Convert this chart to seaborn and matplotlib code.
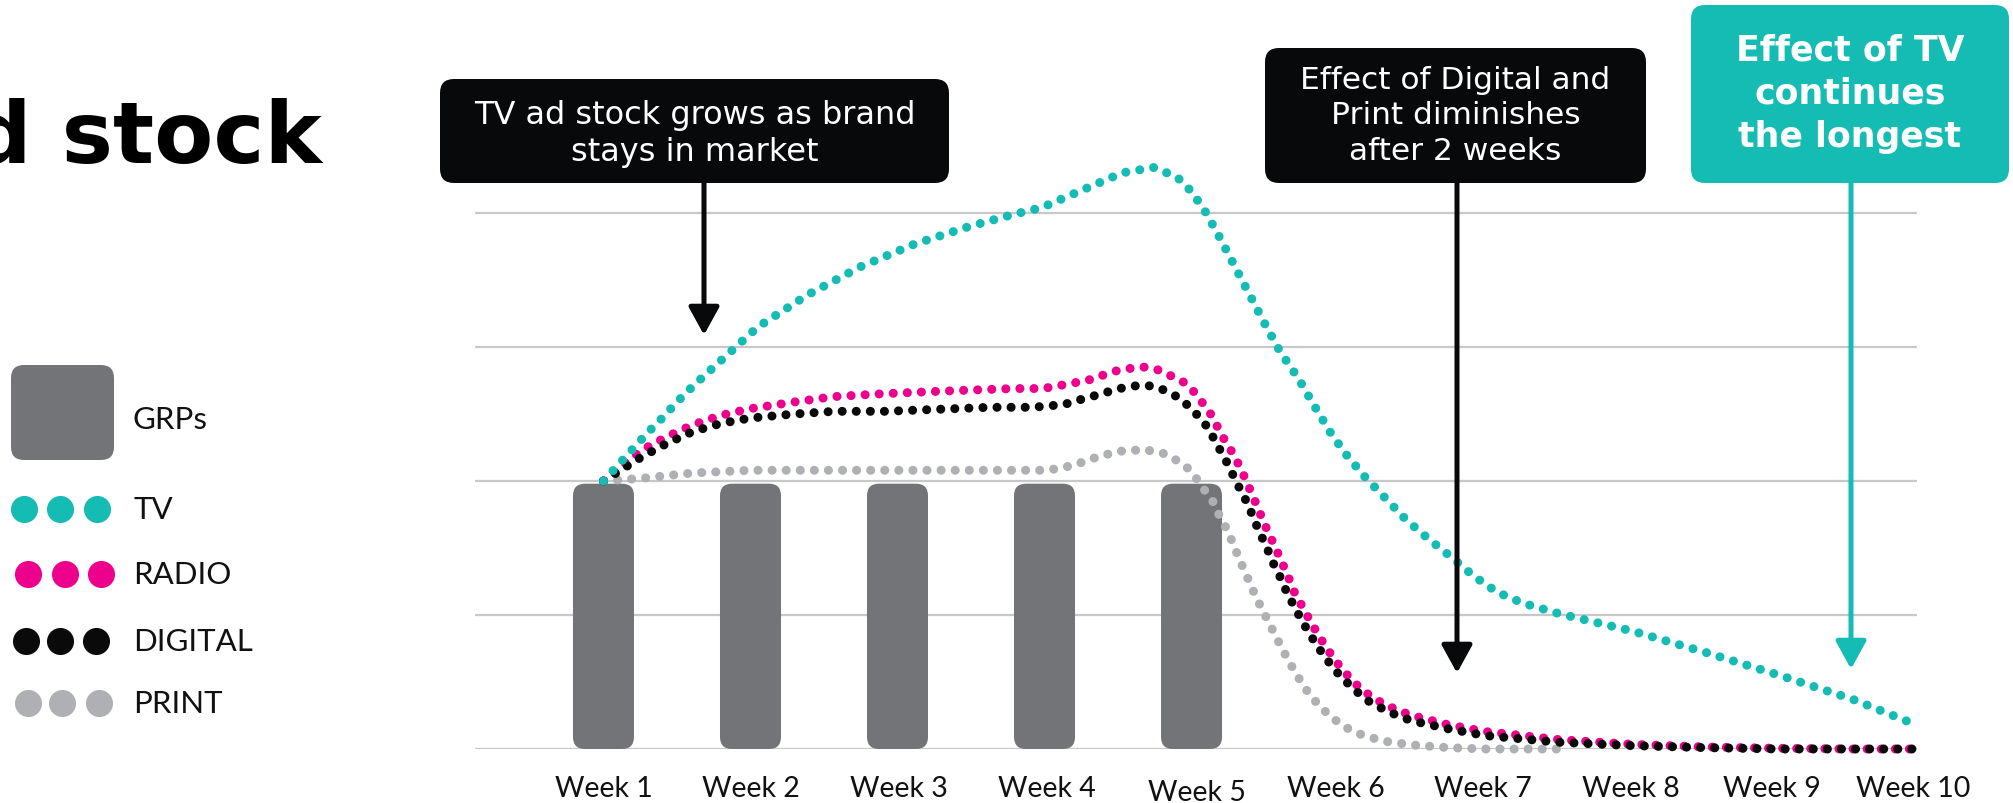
import matplotlib
matplotlib.use('Agg')
import matplotlib.pyplot as plt
import matplotlib.transforms as mtransforms
from matplotlib.patches import FancyBboxPatch, FancyArrowPatch
import seaborn as sns

# GRP flights (weeks 1-5)
grp_weeks = [1, 2, 3, 4, 5]
grp_values = [1.98, 1.98, 1.98, 1.98, 1.98]

week_labels = ['Week 1', 'Week 2', 'Week 3', 'Week 4', 'Week 5',
               'Week 6', 'Week 7', 'Week 8', 'Week 9', 'Week 10']

# ad stock curves (x in weeks, y in grid units)
tv_x = [1.0, 1.1, 1.2, 1.3, 1.4, 1.5, 1.61, 1.83, 2.05, 2.39, 2.75, 3.12, 3.49, 3.79,
        3.98, 4.17, 4.36, 4.53, 4.74, 4.90, 5.0, 5.1, 5.2, 5.3, 5.4, 5.5, 5.6, 5.73,
        5.83, 5.94, 6.05, 6.18, 6.32, 6.46, 6.61, 6.77, 6.92, 7.08, 7.25, 7.5, 8.0, 8.5,
        9.0, 9.5, 9.93]
tv_y = [2.0, 2.12, 2.24, 2.36, 2.47, 2.59, 2.71, 2.93, 3.15, 3.39, 3.60, 3.77, 3.90, 3.99,
        4.04, 4.13, 4.22, 4.30, 4.34, 4.27, 4.16, 4.00, 3.80, 3.59, 3.38, 3.17, 2.97, 2.76,
        2.57, 2.37, 2.20, 2.03, 1.87, 1.71, 1.57, 1.43, 1.29, 1.17, 1.09, 1.01, 0.88, 0.72,
        0.55, 0.37, 0.18]

radio_x = [1.0, 1.13, 1.26, 1.43, 1.61, 1.8, 2.0, 2.3, 2.57, 2.88, 3.29, 3.79, 3.99, 4.09,
           4.29, 4.48, 4.58, 4.68, 4.77, 4.87, 4.96, 5.03, 5.09, 5.15, 5.19, 5.24, 5.29,
           5.34, 5.42, 5.50, 5.58, 5.66, 5.70, 5.76, 5.82, 5.88, 5.94, 6.0, 6.1, 6.2, 6.3,
           6.4, 6.5, 6.75, 7.0, 7.5, 8.0, 8.5, 9.0, 9.5, 9.93]
radio_y = [2.0, 2.12, 2.23, 2.33, 2.42, 2.49, 2.54, 2.59, 2.63, 2.65, 2.67, 2.69, 2.69, 2.71,
           2.75, 2.82, 2.84, 2.85, 2.83, 2.78, 2.73, 2.65, 2.56, 2.47, 2.37, 2.28, 2.19,
           2.08, 1.88, 1.67, 1.48, 1.28, 1.17, 1.05, 0.93, 0.82, 0.72, 0.63, 0.50, 0.41, 0.34,
           0.29, 0.25, 0.18, 0.13, 0.07, 0.035, 0.015, 0.005, 0.0, 0.0]

digital_x = [1.0, 1.13, 1.26, 1.43, 1.61, 1.8, 2.0, 2.3, 2.57, 2.92, 3.63, 3.92, 4.02, 4.13,
             4.22, 4.32, 4.51, 4.62, 4.72, 4.81, 4.90, 4.98, 5.05, 5.11, 5.16, 5.21, 5.26,
             5.30, 5.35, 5.39, 5.43, 5.47, 5.51, 5.55, 5.60, 5.64, 5.70, 5.76, 5.82, 5.88,
             5.94, 6.0, 6.1, 6.2, 6.3, 6.4, 6.5, 6.75, 7.0, 7.5, 8.0, 8.5, 9.0, 9.5, 9.93]
digital_y = [2.0, 2.09, 2.18, 2.28, 2.37, 2.43, 2.47, 2.50, 2.52, 2.52, 2.55, 2.55, 2.56, 2.57,
             2.60, 2.63, 2.69, 2.71, 2.71, 2.68, 2.63, 2.56, 2.48, 2.40, 2.30, 2.20, 2.10,
             2.00, 1.90, 1.81, 1.70, 1.60, 1.51, 1.40, 1.29, 1.19, 1.06, 0.94, 0.83, 0.73,
             0.64, 0.56, 0.45, 0.36, 0.30, 0.25, 0.21, 0.15, 0.10, 0.05, 0.025, 0.01, 0.0, 0.0, 0.0]

print_x = [1.0, 1.13, 1.26, 1.43, 1.61, 2.0, 2.9, 4.02, 4.12, 4.21, 4.30, 4.40, 4.49, 4.60,
           4.70, 4.80, 4.89, 4.97, 5.04, 5.09, 5.15, 5.19, 5.24, 5.28, 5.32, 5.36, 5.40,
           5.44, 5.50, 5.56, 5.62, 5.68, 5.74, 5.80, 5.88, 5.96, 6.05, 6.15, 6.3, 6.5,
           6.75, 7.0, 7.5]
print_y = [2.0, 2.01, 2.02, 2.04, 2.06, 2.08, 2.08, 2.08, 2.10, 2.12, 2.16, 2.19, 2.22, 2.23,
           2.23, 2.21, 2.16, 2.10, 2.01, 1.93, 1.84, 1.74, 1.64, 1.54, 1.43, 1.33, 1.23,
           1.13, 1.00, 0.87, 0.74, 0.62, 0.51, 0.41, 0.31, 0.23, 0.16, 0.11, 0.06, 0.03,
           0.01, 0.0, 0.0]

TEAL = '#14BCB4'
PINK = '#EC008C'
BLACK = '#0A0A0B'
GREY = '#AFB0B3'
BAR = '#737478'

sns.set_theme(style='white')
plt.rcParams['font.family'] = ['Lato', 'DejaVu Sans']

W, H = 2013, 804
fig = plt.figure(figsize=(W / 100, H / 100), dpi=100)
ax = fig.add_axes([475 / W, 54 / H, 1442 / W, 616 / H])

# bars, then swapped for rounded ones
sns.barplot(x=grp_weeks, y=grp_values, native_scale=True, width=0.415,
            color=BAR, saturation=1, ax=ax, zorder=2)
for p in list(ax.patches):
    x0, y0, w, h = p.get_x(), p.get_y(), p.get_width(), p.get_height()
    p.remove()
    ax.add_patch(FancyBboxPatch((x0, y0), w, h,
                                boxstyle='round,pad=0,rounding_size=0.082',
                                mutation_aspect=1.097, fc=BAR, ec='none', zorder=2))

dots = dict(lw=6.5, linestyle=(0, (0.01, 1.55)), dash_capstyle='round',
            sort=False, estimator=None, clip_on=False, zorder=3)
sns.lineplot(x=print_x, y=print_y, color=GREY, ax=ax, **dots)
sns.lineplot(x=radio_x, y=radio_y, color=PINK, ax=ax, **dots)
sns.lineplot(x=digital_x, y=digital_y, color=BLACK, ax=ax, **dots)
sns.lineplot(x=tv_x, y=tv_y, color=TEAL, ax=ax, **dots)

ax.set_xlim(0.126, 9.935)
ax.set_ylim(0, 616 / 134)
ax.set_yticks([0, 1, 2, 3, 4])
ax.yaxis.grid(True, color='#C8C8C8', lw=1.6)
ax.set_axisbelow(True)
for s in ax.spines.values():
    s.set_visible(False)
tick_pos = [1, 2.004, 3.009, 4.013, 5.04, 5.98, 6.98, 7.99, 8.95, 9.91]
ax.set_xticks(tick_pos, week_labels)
ax.tick_params(axis='x', length=0, pad=28, labelsize=20.5, labelcolor='#111111')
ax.tick_params(axis='y', left=False, labelleft=False)
for i, lab in enumerate(ax.get_xticklabels()):
    lab.set_va('center')
    if i == 4:
        lab.set_transform(lab.get_transform() +
                          mtransforms.ScaledTranslation(0, -0.045, fig.dpi_scale_trans))
ax.set_xlabel('')
ax.set_ylabel('')

# overlay in pixel coordinates for title, legend and call-outs
ov = fig.add_axes([0, 0, 1, 1], zorder=5)
ov.set_xlim(0, W)
ov.set_ylim(H, 0)
ov.axis('off')
ov.patch.set_alpha(0)

ov.text(322, 163, 'd stock', ha='right', va='baseline', fontsize=62,
        fontweight='bold', family='DejaVu Sans', color='black')

# legend
ov.add_patch(FancyBboxPatch((11, 366), 103, 95, boxstyle='round,pad=0,rounding_size=13',
                            fc=BAR, ec='none'))
ov.text(133, 420, 'GRPs', va='center', fontsize=22.5, color='#111111')
legend_rows = [('TV', TEAL, [24, 60, 97], 510), ('RADIO', PINK, [28, 65, 101], 575),
               ('DIGITAL', BLACK, [26, 60, 96], 642), ('PRINT', GREY, [28, 62, 99], 704)]
for name, c, xs, y in legend_rows:
    ov.scatter(xs, [y] * 3, s=380, color=c, lw=0)
    ov.text(133, y, name, va='center', fontsize=22.5, color='#111111')


def callout(x0, y0, x1, y1, fc, text, ty, bold=False, size=22.5, ls=1.05):
    ov.add_patch(FancyBboxPatch((x0, y0), x1 - x0, y1 - y0,
                                boxstyle='round,pad=0,rounding_size=14', fc=fc, ec='none'))
    ov.text((x0 + x1) / 2, ty, text, ha='center', va='center', color='white',
            fontsize=size, family='DejaVu Sans', linespacing=ls,
            fontweight='bold' if bold else 'normal')


def arrow(x, y0, y1, c):
    ov.add_patch(FancyArrowPatch((x, y0), (x, y1),
                                 arrowstyle='-|>,head_length=1.0,head_width=0.55',
                                 mutation_scale=17, lw=3.6, color=c,
                                 shrinkA=0, shrinkB=0))


callout(440, 80, 949, 184, '#08090B', 'TV ad stock grows as brand\nstays in market', 134,
        size=23, ls=1.28)
arrow(704, 184, 336, '#08090B')
callout(1265, 49, 1646, 184, '#08090B', 'Effect of Digital and\nPrint diminishes\nafter 2 weeks', 116,
        ls=1.3)
arrow(1457, 184, 674, '#08090B')
callout(1691, 6, 2009, 184, TEAL, 'Effect of TV\ncontinues\nthe longest', 94,
        bold=True, size=25, ls=1.35)
arrow(1851, 184, 670, TEAL)

fig.savefig('out.png', dpi=100)
